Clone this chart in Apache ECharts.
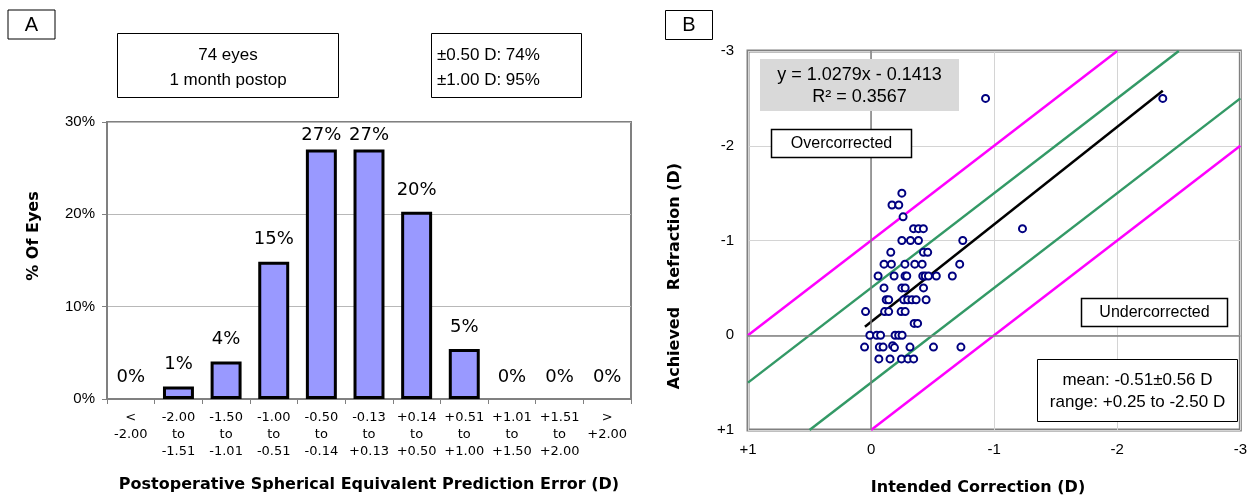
<!DOCTYPE html>
<html>
<head>
<meta charset="utf-8">
<script src="https://cdn.jsdelivr.net/npm/echarts/dist/echarts.min.js"></script>
<style>
  html, body { margin: 0; padding: 0; background: #fff; }
  #chart { width: 1250px; height: 496px; }
</style>
</head>
<body>
<div id="chart"></div>
<script>
// ---------- Panel A data ----------
const errorCategories = [
  '<\n-2.00', '-2.00\nto\n-1.51', '-1.50\nto\n-1.01', '-1.00\nto\n-0.51',
  '-0.50\nto\n-0.14', '-0.13\nto\n+0.13', '+0.14\nto\n+0.50', '+0.51\nto\n+1.00',
  '+1.01\nto\n+1.50', '+1.51\nto\n+2.00', '>\n+2.00'
];
const pctEyes = [0, 1.35, 4.05, 14.86, 27.03, 27.03, 20.27, 5.41, 0, 0, 0];
const pctTicks = [0, 10, 20, 30];

// ---------- Panel B data ----------
// [intended correction (D), achieved refraction (D)]
const eyePoints = [
  [-0.93, -2.5], [-2.37, -2.5], [-1.23, -1.125],
  [-0.25, -1.5],
  [-0.17, -1.375], [-0.225, -1.375],
  [-0.26, -1.25],
  [-0.345, -1.125], [-0.385, -1.125], [-0.425, -1.125],
  [-0.25, -1.0], [-0.32, -1.0], [-0.385, -1.0], [-0.745, -1.0],
  [-0.16, -0.875], [-0.425, -0.875], [-0.46, -0.875],
  [-0.105, -0.75], [-0.165, -0.75], [-0.275, -0.75], [-0.355, -0.75], [-0.415, -0.75], [-0.72, -0.75],
  [-0.057, -0.625], [-0.187, -0.625], [-0.276, -0.625], [-0.29, -0.625], [-0.42, -0.625],
  [-0.44, -0.625], [-0.466, -0.625], [-0.53, -0.625], [-0.66, -0.625],
  [-0.105, -0.5], [-0.25, -0.5], [-0.277, -0.5], [-0.426, -0.5],
  [-0.123, -0.375], [-0.143, -0.375], [-0.265, -0.375], [-0.297, -0.375], [-0.332, -0.375], [-0.366, -0.375], [-0.447, -0.375],
  [0.045, -0.25], [-0.11, -0.25], [-0.143, -0.25], [-0.244, -0.25], [-0.277, -0.25],
  [-0.35, -0.125], [-0.378, -0.125],
  [0.01, 0], [-0.045, 0], [-0.077, 0], [-0.195, 0], [-0.224, 0], [-0.252, 0],
  [0.053, 0.125], [-0.067, 0.125], [-0.098, 0.125], [-0.175, 0.11], [-0.19, 0.13], [-0.316, 0.125], [-0.507, 0.125], [-0.73, 0.125],
  [-0.063, 0.25], [-0.154, 0.25], [-0.247, 0.25], [-0.3, 0.25], [-0.346, 0.25]
];
const trendLine = [[0.05, -0.09], [-2.37, -2.58]];
const magentaUpper = [[1, 0], [-2, -3]];
const magentaLower = [[0, 1], [-3, -2]];
const greenUpper = [[1, 0.5], [-2.5, -3]];
const greenLower = [[0.5, 1], [-3, -2.5]];
const diopterTicks = [1, 0, -1, -2, -3];

// ---------- texts ----------
const panelAInfo = ['74 eyes', '1 month postop'];
const panelAAccuracy = ['\u00b10.50 D: 74%', '\u00b11.00 D: 95%'];
const equationText = ['y = 1.0279x - 0.1413', 'R\u00b2 = 0.3567'];
const statsText = ['mean: -0.51\u00b10.56 D', 'range: +0.25 to -2.50 D'];

const ARIAL = 'Liberation Sans, Arial, sans-serif';
const VERDANA = 'DejaVu Sans, Verdana, sans-serif';

function txt(x, y, text, size, opts) {
  opts = opts || {};
  return {
    type: 'text', x: x, y: y, rotation: opts.rotation || 0, z: 100,
    style: {
      text: text,
      x: 0, y: 0,
      font: (opts.bold ? 'bold ' : '') + size + 'px ' + (opts.family || ARIAL),
      fill: '#000',
      textAlign: opts.align || 'center', align: opts.align || 'center',
      textVerticalAlign: 'middle', verticalAlign: 'middle'
    }
  };
}
function box(x, y, w, h, fill, stroke, lw) {
  return {
    type: 'rect', z: 99,
    shape: { x: x, y: y, width: w, height: h },
    style: { fill: fill, stroke: stroke || null, lineWidth: lw || 0 }
  };
}
function signed(v) { return v > 0 ? '+' + v : String(v); }
function refLine(data, color, w) {
  return {
    type: 'line', xAxisIndex: 1, yAxisIndex: 1, data: data,
    symbol: 'none', silent: true, z: 3,
    lineStyle: { color: color, width: w }
  };
}

const chart = echarts.init(document.getElementById('chart'), null, { renderer: 'canvas' });
chart.setOption({
  animation: false,
  backgroundColor: '#fff',
  grid: [
    { left: 107, top: 122, width: 524, height: 277, show: true, borderColor: '#808080', borderWidth: 2 },
    { left: 748, top: 51, width: 499, height: 379, show: true, borderColor: '#808080', borderWidth: 3 }
  ],
  xAxis: [
    {
      type: 'category', gridIndex: 0, data: errorCategories,
      axisLine: { lineStyle: { color: '#808080', width: 2 } },
      axisTick: { show: true, length: 5, lineStyle: { color: '#808080' } },
      axisLabel: { interval: 0, fontFamily: VERDANA, fontSize: 13, lineHeight: 17, color: '#000', margin: 10 }
    },
    {
      type: 'value', gridIndex: 1, min: -3, max: 1, interval: 1, inverse: true,
      axisLine: { show: false }, axisTick: { show: false },
      splitLine: { lineStyle: { color: '#d4d4d4', width: 1 } },
      axisLabel: { formatter: signed, fontFamily: ARIAL, fontSize: 15, color: '#000', margin: 12 }
    }
  ],
  yAxis: [
    {
      type: 'value', gridIndex: 0, min: pctTicks[0], max: pctTicks[pctTicks.length - 1], interval: 10,
      axisLine: { show: true, lineStyle: { color: '#808080', width: 2 } },
      axisTick: { show: true, length: 5, lineStyle: { color: '#808080' } },
      splitLine: { lineStyle: { color: '#b8b8b8', width: 1 } },
      axisLabel: { formatter: '{value}%', fontFamily: ARIAL, fontSize: 15, color: '#000', margin: 12 }
    },
    {
      type: 'value', gridIndex: 1, min: -3, max: 1, interval: 1, inverse: true,
      axisLine: { show: false }, axisTick: { show: false },
      splitLine: { lineStyle: { color: '#d4d4d4', width: 1 } },
      axisLabel: { formatter: signed, fontFamily: ARIAL, fontSize: 15, color: '#000', margin: 14 }
    }
  ],
  series: [
    {
      type: 'bar', xAxisIndex: 0, yAxisIndex: 0,
      data: pctEyes.map(v => ({
        value: v,
        label: { distance: v > 25 ? 5 : 13 },
        itemStyle: v === 0 ? { borderWidth: 0, color: 'transparent' } : undefined
      })),
      barCategoryGap: '35%',
      itemStyle: { color: '#9999ff', borderColor: '#000', borderWidth: 3 },
      label: {
        show: true, position: 'top',
        formatter: p => Math.round(p.value) + '%',
        fontFamily: VERDANA, fontSize: 18, color: '#000'
      }
    },
    {
      type: 'line', xAxisIndex: 1, yAxisIndex: 1, data: [], symbol: 'none', silent: true, z: 2,
      markLine: {
        silent: true, symbol: 'none', label: { show: false },
        lineStyle: { color: '#808080', width: 1.5, type: 'solid' },
        data: [{ xAxis: 0 }, { yAxis: 0 }]
      }
    },
    refLine(magentaUpper, '#ff00ff', 2.5),
    refLine(magentaLower, '#ff00ff', 2.5),
    refLine(greenUpper, '#339966', 2.5),
    refLine(greenLower, '#339966', 2.5),
    refLine(trendLine, '#000000', 2.5),
    {
      type: 'scatter', xAxisIndex: 1, yAxisIndex: 1, data: eyePoints, z: 5,
      symbol: 'circle', symbolSize: 7,
      itemStyle: { color: '#ffffff', borderColor: '#000080', borderWidth: 2, opacity: 1 }
    }
  ],
  graphic: [
    box(8, 10, 47, 29, '#fff', '#000', 1),
    txt(31.5, 25, 'A', 20),
    box(117.5, 33.5, 221, 64, '#fff', '#000', 1),
    txt(228, 55, panelAInfo[0], 17),
    txt(228, 80, panelAInfo[1], 17),
    box(431.5, 33.5, 150, 64, '#fff', '#000', 1),
    txt(437, 55, panelAAccuracy[0], 17, { align: 'left' }),
    txt(437, 80, panelAAccuracy[1], 17, { align: 'left' }),
    txt(34, 236, '% Of Eyes', 16, { bold: true, family: VERDANA, rotation: Math.PI / 2 }),
    txt(369, 485, 'Postoperative Spherical Equivalent Prediction Error (D)', 16, { bold: true, family: VERDANA }),

    box(665.5, 10.5, 47, 29, '#fff', '#000', 1),
    txt(689, 25, 'B', 20),
    box(760, 59, 199, 52, '#d9d9d9'),
    txt(859.5, 75, equationText[0], 18),
    txt(859.5, 97, equationText[1], 18),
    box(771.5, 129.5, 140, 28, '#fff', '#000', 1.5),
    txt(841.5, 143.5, 'Overcorrected', 16),
    box(1081.5, 298.5, 146, 28, '#fff', '#000', 1.5),
    txt(1154.5, 313, 'Undercorrected', 16),
    box(1037.5, 359.5, 200, 62, '#fff', '#000', 1),
    txt(1137.5, 380, statsText[0], 17),
    txt(1137.5, 402, statsText[1], 17),
    txt(675, 276, 'Achieved   Refraction (D)', 16, { bold: true, family: VERDANA, rotation: Math.PI / 2 }),
    txt(978, 488, 'Intended Correction (D)', 16, { bold: true, family: VERDANA })
  ]
});
</script>
</body>
</html>
